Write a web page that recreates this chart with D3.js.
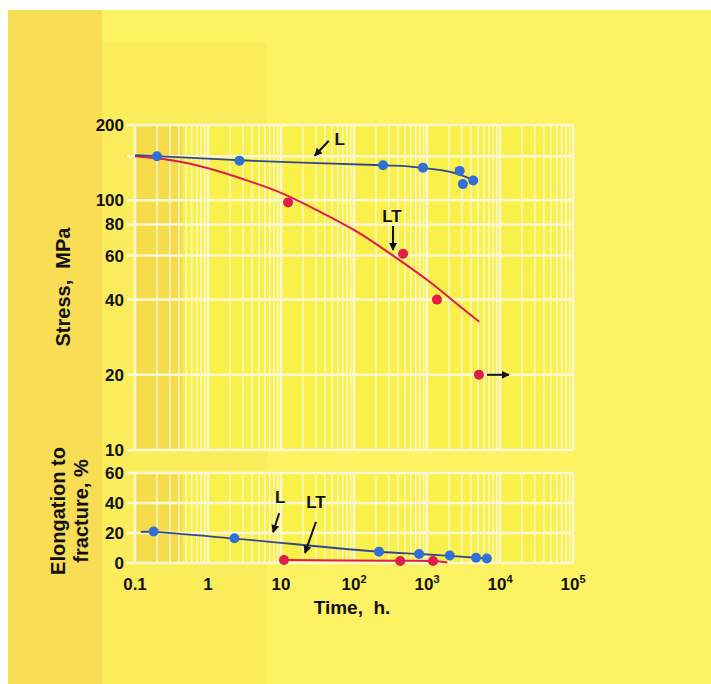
<!DOCTYPE html>
<html>
<head>
<meta charset="utf-8">
<script src="https://cdn.jsdelivr.net/npm/d3@7"></script>
<style>
  body { margin: 0; background: #fff; }
  text { font-family: "Liberation Sans", Arial, sans-serif; font-weight: bold; fill: #111; }
</style>
</head>
<body>
<svg id="chart" width="711" height="684"></svg>
<script>
// time axis (h), log
const timeTicks = [0.1, 1, 10, 100, 1000, 10000, 100000];
const timeTickBase = ["0.1", "1", "10", "10", "10", "10", "10"];
const timeTickExp = ["", "", "", "2", "3", "4", "5"];

// stress axis (MPa), log
const stressTicks = [10, 20, 40, 60, 80, 100, 200];
const stressGrid = [10, 20, 40, 60, 80, 100, 150, 200];
// elongation axis (%)
const elongTicks = [0, 20, 40, 60];

// stress-rupture points
const lStressTime = [0.2, 2.7, 250, 880, 2800, 3100, 4300];
const lStressVal = [150, 144, 138, 135, 131, 116, 120];
const ltStressTime = [12.5, 470, 1370];
const ltStressVal = [98, 61, 40];
const ltRunoutTime = [5150];   // not broken, arrow
const ltRunoutVal = [20];

// fitted curves as drawn
const lStressCurveT = [0.1, 0.2, 2.7, 250, 500, 880, 2000, 3900];
const lStressCurveV = [151.5, 150, 144.5, 138, 137, 134.6, 130, 122];
const ltStressCurveT = [0.1, 0.316, 1, 3.16, 10, 31.6, 100, 316, 1000, 3160, 5200];
const ltStressCurveV = [150, 144.5, 134.3, 121, 107, 91, 76, 61, 48, 36.6, 32.6];

// elongation points
const lElongTime = [0.18, 2.3, 220, 780, 2050, 4700, 6600];
const lElongVal = [21, 16.5, 7.5, 6, 5, 3.5, 3];
const ltElongTime = [11, 430, 1210];
const ltElongVal = [2, 1.3, 1.3];
const lElongCurveT = [0.12, 0.18, 2.3, 220, 780, 2050, 4700, 6600];
const lElongCurveV = [20.8, 20.7, 16.3, 7.5, 6, 4.8, 3.5, 3];
const ltElongCurveT = [11, 430, 1210, 1900];
const ltElongCurveV = [2, 1.5, 1.3, 0.3];

const svg = d3.select("#chart");
const blue = "#2f6fd6", blueLine = "#33478f", red = "#e01c4c";

// paper background
svg.append("rect").attr("x", 8).attr("y", 10).attr("width", 703).attr("height", 674).attr("fill", "#fcf262");
svg.append("rect").attr("x", 8).attr("y", 10).attr("width", 94).attr("height", 674).attr("fill", "#f8dd55");
svg.append("rect").attr("x", 102).attr("y", 42).attr("width", 165).attr("height", 642).attr("fill", "#fbec5c");

const x = d3.scaleLog().domain([0.1, 1e5]).range([135, 573]);
const yS = d3.scaleLog().domain([10, 200]).range([450, 125]);
const yE = d3.scaleLinear().domain([0, 60]).range([563, 473]);

// all 1..9 multiples per decade for the grid
const minorT = [];
for (let e = -1; e < 5; e++) for (let m = 1; m < 10; m++) minorT.push(m * Math.pow(10, e));
minorT.push(1e5);

function panel(y, grid, ticks, fmt) {
    const g = svg.append("g");
    const [y0, y1] = y.range();
    g.append("rect").attr("x", 135).attr("y", y1).attr("width", 438).attr("height", y0 - y1).attr("fill", "#faf04a");
    g.append("rect").attr("x", 135).attr("y", y1).attr("width", x(0.45) - 135).attr("height", y0 - y1).attr("fill", "#f6dc4c");
    g.selectAll(".vg").data(minorT).join("line")
        .attr("x1", d => x(d)).attr("x2", d => x(d))
        .attr("y1", y1).attr("y2", y0)
        .attr("stroke", "#fbf8d4")
        .attr("stroke-width", d => timeTicks.includes(d) ? 2.5 : 1.4);
    g.selectAll(".hg").data(grid).join("line")
        .attr("x1", 127).attr("x2", 573)
        .attr("y1", d => y(d)).attr("y2", d => y(d))
        .attr("stroke", "#fbf8d4").attr("stroke-width", 2.5);
    g.selectAll(".yl").data(ticks).join("text")
        .attr("x", 124).attr("y", d => y(d) + 6)
        .attr("text-anchor", "end").attr("font-size", 17)
        .text(fmt);
    return g;
}

panel(yS, stressGrid, stressTicks, d => d);
panel(yE, elongTicks, elongTicks, d => d);

// x tick labels
const xl = svg.append("g").selectAll("text").data(timeTicks).join("text")
    .attr("x", d => x(d)).attr("y", 590)
    .attr("text-anchor", "middle").attr("font-size", 17);
xl.append("tspan").text((d, i) => timeTickBase[i]);
xl.append("tspan").attr("dy", -7).attr("font-size", 11).text((d, i) => timeTickExp[i]);

// axis titles
svg.append("text").attr("x", 352).attr("y", 614).attr("text-anchor", "middle")
    .attr("font-size", 19).style("white-space", "pre").text("Time,  h.");
svg.append("text").attr("transform", "translate(70,287) rotate(-90)").attr("text-anchor", "middle")
    .attr("font-size", 20).style("white-space", "pre").text("Stress,  MPa");
svg.append("text").attr("transform", "translate(65,511) rotate(-90)").attr("text-anchor", "middle")
    .attr("font-size", 20).text("Elongation to");
svg.append("text").attr("transform", "translate(88,511) rotate(-90)").attr("text-anchor", "middle")
    .attr("font-size", 20).text("fracture, %");

// curves
const line = (y) => d3.line().x(d => x(d[0])).y(d => y(d[1])).curve(d3.curveCatmullRom);
svg.append("path").datum(d3.zip(ltStressCurveT, ltStressCurveV))
    .attr("d", line(yS)).attr("fill", "none").attr("stroke", red).attr("stroke-width", 2);
svg.append("path").datum(d3.zip(lStressCurveT, lStressCurveV))
    .attr("d", line(yS)).attr("fill", "none").attr("stroke", blueLine).attr("stroke-width", 1.8);
svg.append("path").datum(d3.zip(ltElongCurveT, ltElongCurveV))
    .attr("d", line(yE)).attr("fill", "none").attr("stroke", red).attr("stroke-width", 2);
svg.append("path").datum(d3.zip(lElongCurveT, lElongCurveV))
    .attr("d", line(yE)).attr("fill", "none").attr("stroke", blueLine).attr("stroke-width", 1.8);

// points
function dots(ts, vs, y, color) {
    svg.append("g").selectAll("circle").data(d3.zip(ts, vs)).join("circle")
        .attr("cx", d => x(d[0])).attr("cy", d => y(d[1])).attr("r", 5)
        .attr("fill", color);
}
dots(lStressTime, lStressVal, yS, blue);
dots(ltStressTime, ltStressVal, yS, red);
dots(ltRunoutTime, ltRunoutVal, yS, red);
dots(lElongTime, lElongVal, yE, blue);
dots(ltElongTime, ltElongVal, yE, red);

// arrows
svg.append("defs").append("marker").attr("id", "head")
    .attr("viewBox", "0 0 10 10").attr("refX", 9).attr("refY", 5)
    .attr("markerWidth", 4).attr("markerHeight", 4).attr("orient", "auto")
    .append("path").attr("d", "M0,0L10,5L0,10z").attr("fill", "#111");

// tip on data, tail and label offsets in px
const notes = [
    {label: "L", t: 29, v: 150.6, y: yS, dx: 14, dy: -15, lx: 25, ly: -11},
    {label: "LT", t: 342, v: 63.2, y: yS, dx: 0, dy: -24, lx: -1, ly: -28},
    {label: "L", t: 7.8, v: 20.5, y: yE, dx: 6, dy: -19, lx: 7, ly: -29},
    {label: "LT", t: 21.3, v: 6.7, y: yE, dx: 11, dy: -31, lx: 11, ly: -45}
];
notes.forEach(n => {
    const px = x(n.t), py = n.y(n.v);
    svg.append("line").attr("x1", px + n.dx).attr("y1", py + n.dy).attr("x2", px).attr("y2", py)
        .attr("stroke", "#111").attr("stroke-width", 2).attr("marker-end", "url(#head)");
    svg.append("text").attr("x", px + n.lx).attr("y", py + n.ly)
        .attr("text-anchor", "middle").attr("font-size", 17).text(n.label);
});
// run-out arrow
svg.append("line")
    .attr("x1", x(ltRunoutTime[0]) + 8).attr("x2", x(ltRunoutTime[0]) + 30)
    .attr("y1", yS(ltRunoutVal[0])).attr("y2", yS(ltRunoutVal[0]))
    .attr("stroke", "#111").attr("stroke-width", 2).attr("marker-end", "url(#head)");
</script>
</body>
</html>
